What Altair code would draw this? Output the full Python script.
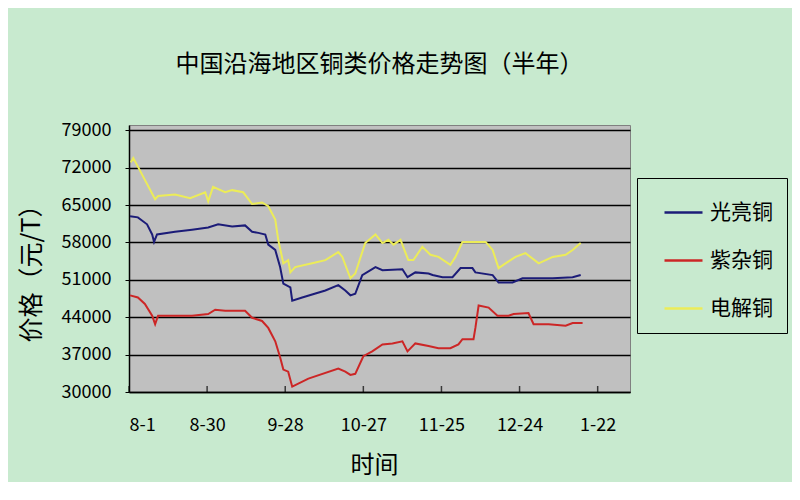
import altair as alt
import pandas as pd

# ---- data (day offset from 8-1, price in 元/T) ----
series_names = ["光亮铜", "紫杂铜", "电解铜"]

days_guangliang = [0.4, 3.3, 6.7, 8.6, 9.3, 10.4, 17.1, 23.4, 29.4, 33.1, 38.3, 43.1, 45.7, 48.0,
                   50.6, 51.7, 54.3, 56.1, 57.3, 59.9, 60.6, 64.3, 72.9, 77.7, 80.3, 82.2, 84.0,
                   86.6, 91.5, 94.1, 101.5, 103.4, 106.3, 111.2, 112.7, 116.4, 120.1, 123.1,
                   127.5, 128.6, 135.0, 137.2, 142.4, 146.1, 151.0, 157.3, 164.7, 167.7]
vals_guangliang = [62900, 62700, 61400, 59500, 58100, 59500, 60000, 60400, 60800, 61400, 61000,
                   61200, 60000, 59800, 59500, 57600, 56600, 53400, 50300, 49600, 47100, 47700,
                   49000, 50000, 49000, 48100, 48400, 51900, 53400, 52800, 53000, 51500, 52400,
                   52200, 51900, 51500, 51500, 53200, 53200, 52400, 51900, 50500, 50500, 51300,
                   51300, 51300, 51500, 51900]

days_zizha = [0.4, 3.3, 5.9, 8.6, 9.7, 10.8, 17.1, 23.4, 29.4, 32.0, 35.7, 43.1, 45.7, 49.4, 51.7,
              54.3, 56.1, 57.3, 59.1, 60.6, 66.6, 77.7, 80.3, 82.2, 84.0, 87.0, 90.3, 94.1, 97.8,
              101.5, 103.4, 106.3, 111.2, 114.9, 119.3, 122.3, 123.8, 127.9, 128.6, 129.8, 133.5,
              136.8, 140.9, 142.8, 148.3, 150.2, 155.8, 162.1, 164.7, 168.4]
vals_zizha = [48100, 47700, 46500, 44300, 42700, 44300, 44300, 44300, 44600, 45400, 45200, 45200,
              43900, 43300, 42000, 39500, 36500, 34200, 33800, 31000, 32500, 34400, 33800, 33200,
              33400, 36700, 37600, 38900, 39100, 39500, 37600, 39100, 38600, 38200, 38200, 38900,
              39900, 39900, 42000, 46200, 45800, 44300, 44300, 44600, 44800, 42700, 42700, 42400,
              42900, 42900]

days_dianjie = [0.7, 1.6, 3.3, 9.7, 10.8, 17.1, 22.7, 28.3, 29.4, 31.2, 35.7, 38.3, 42.4, 45.7,
                49.4, 51.7, 54.3, 55.4, 57.3, 59.1, 59.9, 61.7, 68.0, 72.9, 77.7, 79.2, 82.2, 84.0,
                87.7, 91.5, 94.1, 96.3, 98.2, 100.8, 103.7, 105.6, 108.9, 111.9, 114.9, 119.3,
                121.2, 123.8, 128.6, 132.4, 135.0, 137.2, 139.8, 143.5, 147.2, 152.1, 157.3,
                162.1, 164.7, 167.7]
vals_dianjie = [73000, 73800, 72200, 66100, 66700, 67000, 66300, 67400, 65700, 68400, 67400,
                67800, 67400, 65200, 65500, 64800, 62300, 58500, 54100, 54700, 52400, 53400,
                54100, 54700, 56200, 55300, 51300, 52200, 57900, 59500, 57900, 58500, 57600,
                58500, 54700, 54700, 57200, 55700, 55300, 53800, 55300, 58100, 58100, 58100,
                56600, 53200, 54100, 55300, 56000, 54100, 55300, 55700, 56600, 57900]

series_colors = ["#1c1c78", "#cc2626", "#ecec58"]

tick_days = [0, 29, 58, 87, 116, 145, 174]
tick_labels = ["8-1", "8-30", "9-28", "10-27", "11-25", "12-24", "1-22"]
y_ticks = [30000, 37000, 44000, 51000, 58000, 65000, 72000, 79000]

# ---- table ----
rows = []
for name, ds, vs in [("光亮铜", days_guangliang, vals_guangliang),
                     ("紫杂铜", days_zizha, vals_zizha),
                     ("电解铜", days_dianjie, vals_dianjie)]:
    for i, (d, v) in enumerate(zip(ds, vs)):
        rows.append({"series": name, "day": d, "price": v, "order": i})
df = pd.DataFrame(rows)
ticks_df = pd.DataFrame({"day": tick_days})

FONT = "Noto Sans CJK SC"
label_expr = ("[" + ",".join(f"'{l}'" for l in tick_labels) + "][indexof(["
              + ",".join(str(d) for d in tick_days) + "], datum.value)]")

x_scale = alt.Scale(domain=[0, 186], nice=False, zero=False)

lines = alt.Chart(df).mark_line(strokeWidth=2).encode(
    x=alt.X("day:Q", scale=x_scale,
            axis=alt.Axis(values=tick_days, labelExpr=label_expr, title="时间",
                          ticks=False, tickSize=0, grid=False, domainColor="black",
                          domainWidth=1.5, labelFont=FONT, labelFontSize=18,
                          labelColor="black", labelPadding=24, titleFont=FONT,
                          titleFontSize=24, titleFontWeight="normal", titleColor="black",
                          titleX=245, titleY=73, titleBaseline="middle", titleAlign="center")),
    y=alt.Y("price:Q", scale=alt.Scale(domain=[30000, 80000], nice=False, zero=False),
            axis=alt.Axis(values=y_ticks, format="d", title="价格（元/T）", grid=True,
                          gridColor="black", gridWidth=1.5, domainColor="black",
                          domainWidth=1.5, tickColor="black", tickSize=4, labelFont=FONT,
                          labelFontSize=18, labelColor="black", labelPadding=14,
                          titleFont=FONT, titleFontSize=25, titleFontWeight="normal",
                          titleColor="black", titleX=-98, titleY=142,
                          titleBaseline="middle", titleAlign="center")),
    color=alt.Color("series:N",
                    scale=alt.Scale(domain=series_names, range=series_colors),
                    legend=alt.Legend(title=None, orient="none", legendX=508, legendY=53,
                                      symbolType="stroke", symbolSize=1444,
                                      symbolStrokeWidth=2.5, symbolOffset=12,
                                      labelFont=FONT, labelFontSize=21, labelColor="black",
                                      labelOffset=6, rowPadding=17, padding=14,
                                      strokeColor="black", fillColor="#c8eacf")),
    order="order:Q",
)

xticks = alt.Chart(ticks_df).mark_tick(orient="vertical", color="black", thickness=1.5,
                                       size=6).encode(
    x=alt.X("day:Q", scale=x_scale),
    y=alt.value(264),
)

chart = alt.layer(lines, xticks).properties(
    width=501, height=267,
    autosize=alt.AutoSizeParams(type="none"),
    padding={"left": 121, "top": 117, "right": 162, "bottom": 90},
    background="#c8eacf",
    title=alt.Title("中国沿海地区铜类价格走势图（半年）", font=FONT, fontSize=24,
                    fontWeight="normal", color="black", anchor="middle", frame="group",
                    offset=44),
).configure_view(fill="#c0c0c0", stroke="#808080", strokeWidth=1)

chart.save("out.html", embed_options={"renderer": "svg", "actions": False})
